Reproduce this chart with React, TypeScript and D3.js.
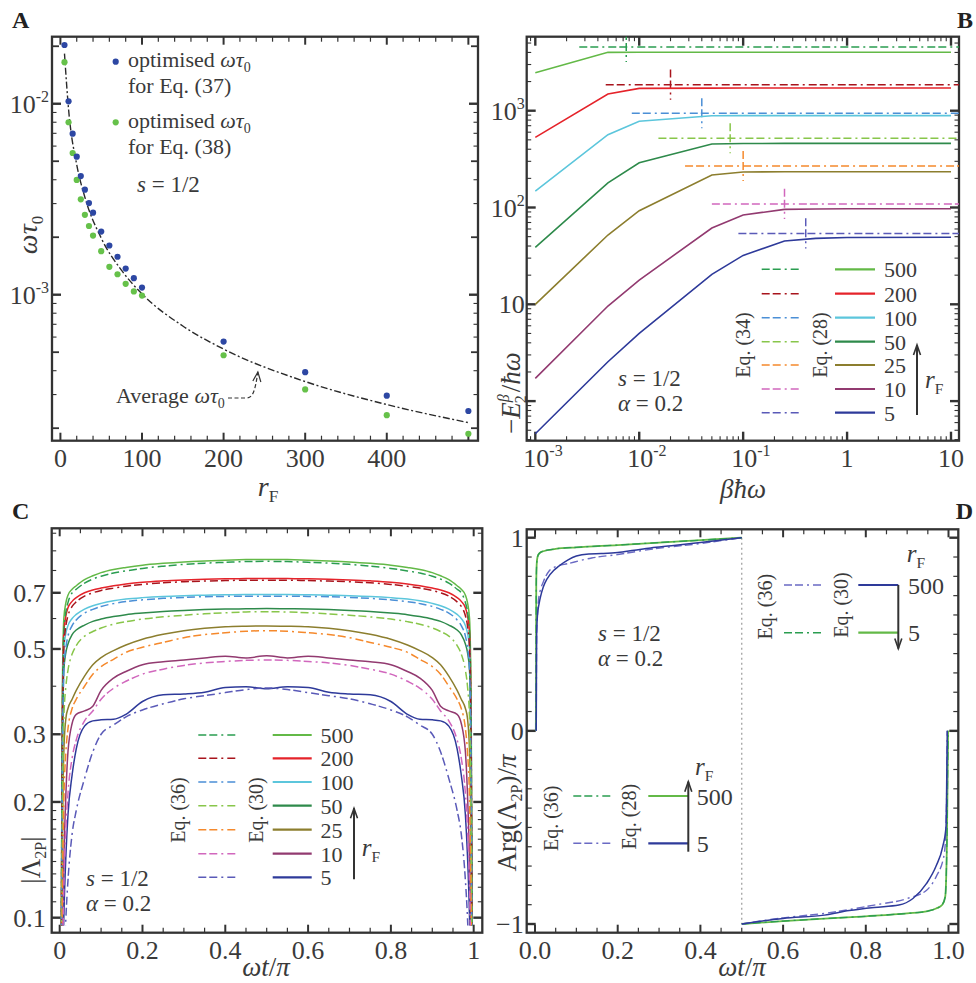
import React, { useEffect } from 'react';
import * as d3 from 'd3';

const FONT = "'Liberation Serif','Times New Roman',serif";
const INK = '#333333';
const TXT = '#3a3a3a';
const DASH = '8,3,8,4,2,4';
const TICKFS = 26;
const LEGFS = 22;

// ================= Panel A data =================
const aRF = [5, 10, 15, 20, 25, 30, 35, 40, 50, 60, 70, 80, 90, 100, 200, 300, 400, 500];
const aTau37 = [0.0203, 0.0103, 0.00697, 0.00528, 0.00418, 0.00355, 0.00302, 0.00269, 0.00214, 0.00181, 0.00158, 0.00137, 0.00122, 0.00109, 0.000568, 0.000393, 0.000296, 0.000246];
const aTau38 = [0.0165, 0.008, 0.00552, 0.00399, 0.00316, 0.00262, 0.00229, 0.00204, 0.00169, 0.0014, 0.00128, 0.00114, 0.00104, 0.00099, 0.000482, 0.000319, 0.000234, 0.000187];
const aAvgRF = [5, 10, 20, 30, 50, 75, 100, 150, 200, 300, 400, 500];
const aAvgTau = [0.0183, 0.00936, 0.0048, 0.00324, 0.00198, 0.00134, 0.00101, 0.000686, 0.000519, 0.000351, 0.000266, 0.000214];
const aXLabels = [0, 100, 200, 300, 400];
const aYExp = [-2, -3];

// ================= Panel B data =================
const bBhw = [0.001, 0.005, 0.01, 0.05, 0.1, 0.25, 0.5, 1, 10];
const bE28_500 = [2470, 4009, 4010, 4010, 4010, 4010, 4010, 4010, 4010];
const bE28_200 = [531, 1486, 1701, 1712, 1715, 1715, 1715, 1715, 1715];
const bE28_100 = [148, 565, 777, 887, 890, 890, 890, 890, 890];
const bE28_50 = [38.8, 180, 290, 453, 458, 460, 460, 460, 460];
const bE28_25 = [10, 52, 92.7, 217, 233, 234, 234, 234, 234];
const bE28_10 = [1.72, 9.6, 17.8, 61.4, 83.6, 95.7, 96.5, 97, 97];
const bE28_5 = [0.46, 2.55, 5.0, 20.4, 32, 45, 48, 49, 49.2];
const bE34 = [4550, 1858, 940, 519, 268, 109, 54];
const bE34Start = [0.00265, 0.00476, 0.00848, 0.0153, 0.0276, 0.05, 0.09];
const bE34Mark = [0.0075, 0.02, 0.04, 0.075, 0.1, 0.25, 0.4];
const bXExp = [-3, -2, -1];
const bXPlain = [1, 10];
const bYLabels = [{ v: 1000, e: '3' }, { v: 100, e: '2' }, { v: 10, e: '' }];

const rFLabels = ['500', '200', '100', '50', '25', '10', '5'];
const solidCol = ['#63b947', '#e5232a', '#5cc6dc', '#2e8a4b', '#8c7e2e', '#923a70', '#2e3a9a'];
const dashCol = ['#2a9d50', '#a8141c', '#4b8fd6', '#88c64a', '#f5892c', '#d167bd', '#5a5ab8'];

// ================= Panel C data =================
const cT = [0.004, 0.006, 0.01, 0.015, 0.02, 0.03, 0.04, 0.06, 0.08, 0.1, 0.13, 0.16, 0.2, 0.25, 0.3, 0.35, 0.4, 0.45, 0.5, 0.55, 0.6, 0.65, 0.7, 0.75, 0.8, 0.84, 0.87, 0.9, 0.92, 0.94, 0.96, 0.97, 0.98, 0.985, 0.99, 0.994, 0.996];
const cS500 = [0.10, 0.35, 0.60, 0.66, 0.69, 0.715, 0.73, 0.757, 0.775, 0.79, 0.805, 0.815, 0.826, 0.835, 0.842, 0.847, 0.851, 0.854, 0.855, 0.854, 0.851, 0.847, 0.842, 0.835, 0.826, 0.815, 0.805, 0.79, 0.775, 0.757, 0.73, 0.715, 0.69, 0.66, 0.60, 0.35, 0.10];
const cS200 = [0.09, 0.30, 0.55, 0.61, 0.64, 0.665, 0.68, 0.70, 0.712, 0.72, 0.73, 0.738, 0.746, 0.752, 0.756, 0.759, 0.761, 0.762, 0.763, 0.762, 0.761, 0.759, 0.756, 0.752, 0.746, 0.738, 0.73, 0.72, 0.712, 0.70, 0.68, 0.665, 0.64, 0.61, 0.55, 0.30, 0.09];
const cS100 = [0.08, 0.25, 0.50, 0.55, 0.575, 0.60, 0.615, 0.635, 0.648, 0.657, 0.667, 0.674, 0.68, 0.685, 0.688, 0.69, 0.692, 0.693, 0.693, 0.693, 0.692, 0.69, 0.688, 0.685, 0.68, 0.674, 0.667, 0.657, 0.648, 0.635, 0.615, 0.60, 0.575, 0.55, 0.50, 0.25, 0.08];
const cS50 = [0.07, 0.20, 0.44, 0.49, 0.515, 0.545, 0.56, 0.577, 0.59, 0.598, 0.607, 0.614, 0.62, 0.626, 0.63, 0.633, 0.635, 0.636, 0.637, 0.636, 0.635, 0.633, 0.63, 0.626, 0.62, 0.614, 0.607, 0.598, 0.59, 0.577, 0.56, 0.545, 0.515, 0.49, 0.44, 0.20, 0.07];
const cS25 = [0.06, 0.13, 0.27, 0.33, 0.35, 0.37, 0.39, 0.425, 0.455, 0.475, 0.495, 0.512, 0.53, 0.546, 0.558, 0.566, 0.571, 0.573, 0.574, 0.573, 0.571, 0.566, 0.558, 0.546, 0.53, 0.512, 0.495, 0.475, 0.455, 0.425, 0.39, 0.37, 0.35, 0.33, 0.27, 0.13, 0.06];
const cS10 = [0.05, 0.08, 0.14, 0.21, 0.27, 0.32, 0.338, 0.345, 0.355, 0.39, 0.42, 0.437, 0.455, 0.463, 0.468, 0.474, 0.479, 0.474, 0.48, 0.474, 0.479, 0.474, 0.468, 0.463, 0.455, 0.437, 0.42, 0.39, 0.355, 0.345, 0.338, 0.32, 0.27, 0.21, 0.14, 0.08, 0.05];
const cS5 = [0.04, 0.06, 0.10, 0.145, 0.185, 0.235, 0.275, 0.315, 0.325, 0.327, 0.328, 0.338, 0.365, 0.38, 0.382, 0.386, 0.397, 0.399, 0.394, 0.399, 0.397, 0.386, 0.382, 0.38, 0.365, 0.338, 0.328, 0.327, 0.325, 0.315, 0.275, 0.235, 0.185, 0.145, 0.10, 0.06, 0.04];
const cD500 = [0.09, 0.29, 0.55, 0.625, 0.66, 0.70, 0.715, 0.742, 0.76, 0.773, 0.788, 0.798, 0.81, 0.821, 0.83, 0.836, 0.84, 0.844, 0.845, 0.844, 0.84, 0.836, 0.83, 0.821, 0.81, 0.798, 0.788, 0.773, 0.76, 0.742, 0.715, 0.70, 0.66, 0.625, 0.55, 0.29, 0.09];
const cD200 = [0.08, 0.24, 0.50, 0.575, 0.61, 0.645, 0.663, 0.686, 0.70, 0.71, 0.72, 0.728, 0.736, 0.743, 0.748, 0.751, 0.753, 0.755, 0.755, 0.755, 0.753, 0.751, 0.748, 0.743, 0.736, 0.728, 0.72, 0.71, 0.70, 0.686, 0.663, 0.645, 0.61, 0.575, 0.50, 0.24, 0.08];
const cD100 = [0.07, 0.20, 0.44, 0.505, 0.54, 0.575, 0.595, 0.62, 0.634, 0.645, 0.656, 0.664, 0.671, 0.677, 0.681, 0.684, 0.685, 0.686, 0.686, 0.686, 0.685, 0.684, 0.681, 0.677, 0.671, 0.664, 0.656, 0.645, 0.634, 0.62, 0.595, 0.575, 0.54, 0.505, 0.44, 0.20, 0.07];
const cD50 = [0.06, 0.15, 0.33, 0.40, 0.44, 0.485, 0.51, 0.54, 0.555, 0.567, 0.58, 0.589, 0.598, 0.606, 0.612, 0.617, 0.621, 0.624, 0.625, 0.624, 0.621, 0.617, 0.612, 0.606, 0.598, 0.589, 0.58, 0.567, 0.555, 0.54, 0.51, 0.485, 0.44, 0.40, 0.33, 0.15, 0.06];
const cD25 = [0.05, 0.10, 0.20, 0.27, 0.31, 0.35, 0.37, 0.40, 0.43, 0.45, 0.47, 0.49, 0.505, 0.52, 0.535, 0.545, 0.551, 0.556, 0.558, 0.556, 0.551, 0.545, 0.535, 0.52, 0.505, 0.49, 0.47, 0.45, 0.43, 0.40, 0.37, 0.35, 0.31, 0.27, 0.20, 0.10, 0.05];
const cD10 = [0.04, 0.065, 0.12, 0.17, 0.21, 0.26, 0.29, 0.325, 0.345, 0.37, 0.395, 0.412, 0.43, 0.443, 0.453, 0.46, 0.464, 0.467, 0.468, 0.467, 0.464, 0.46, 0.453, 0.443, 0.43, 0.412, 0.395, 0.37, 0.345, 0.325, 0.29, 0.26, 0.21, 0.17, 0.12, 0.065, 0.04];
const cD5 = [0.03, 0.045, 0.07, 0.10, 0.125, 0.165, 0.19, 0.23, 0.27, 0.30, 0.317, 0.333, 0.347, 0.36, 0.371, 0.378, 0.385, 0.392, 0.396, 0.392, 0.385, 0.378, 0.371, 0.36, 0.347, 0.333, 0.317, 0.30, 0.27, 0.23, 0.19, 0.165, 0.125, 0.10, 0.07, 0.045, 0.03];
const cXLabels = ['0', '0.2', '0.4', '0.6', '0.8', '1'];
const cYLabels = [0.1, 0.2, 0.3, 0.5, 0.7];

// ================= Panel D data =================
const dG1T = [0.002, 0.0025, 0.003, 0.004, 0.006, 0.01, 0.02, 0.05, 0.1, 0.2, 0.3, 0.4, 0.5];
const dG1V = [0, 0.3, 0.75, 0.86, 0.9, 0.918, 0.93, 0.942, 0.95, 0.962, 0.975, 0.987, 1.0];
const dG2T = [0.5, 0.6, 0.7, 0.8, 0.9, 0.95, 0.97, 0.985, 0.992, 0.996, 0.998, 0.999];
const dG2V = [-1, -0.985, -0.972, -0.96, -0.945, -0.933, -0.92, -0.9, -0.86, -0.6, -0.2, 0];
const dB1T = [0.003, 0.0035, 0.004, 0.006, 0.01, 0.014, 0.02, 0.03, 0.045, 0.056, 0.08, 0.1, 0.13, 0.16, 0.2, 0.24, 0.28, 0.33, 0.4, 0.5];
const dB1V = [0, 0.3, 0.5, 0.6, 0.66, 0.7, 0.745, 0.79, 0.83, 0.85, 0.885, 0.905, 0.916, 0.918, 0.923, 0.935, 0.947, 0.958, 0.975, 1.0];
const dB2T = [0.5, 0.6, 0.7, 0.76, 0.82, 0.88, 0.914, 0.947, 0.97, 0.986, 0.994, 0.996, 0.997];
const dB2V = [-1, -0.971, -0.954, -0.93, -0.914, -0.902, -0.868, -0.79, -0.7, -0.6, -0.497, -0.2, 0];
const dBd1T = [0.003, 0.004, 0.006, 0.008, 0.012, 0.02, 0.035, 0.05, 0.08, 0.137, 0.2, 0.28, 0.4, 0.5];
const dBd1V = [0, 0.5, 0.6, 0.668, 0.72, 0.771, 0.83, 0.85, 0.866, 0.895, 0.913, 0.94, 0.97, 1.0];
const dBd2T = [0.5, 0.6, 0.7, 0.82, 0.9, 0.947, 0.97, 0.99, 0.995, 0.997];
const dBd2V = [-1, -0.968, -0.945, -0.902, -0.868, -0.825, -0.756, -0.635, -0.4, 0];
const dXLabels = ['0.0', '0.2', '0.4', '0.6', '0.8', '1.0'];
const dYLabels = [{ v: 1, t: '1' }, { v: 0, t: '0' }, { v: -1, t: '\u22121' }];

const dGreen = '#63b947';
const dGreenD = '#2a9d50';
const dBlue = '#2e3a9a';
const dBlueD = '#6a6ac4';

// ================= Layout =================
const FA = { x0: 52, x1: 478, y0: 36.7, y1: 440.7 };
const FB = { x0: 526.7, x1: 959, y0: 36.7, y1: 440.7 };
const FC = { x0: 51.7, x1: 482.3, y0: 528.3, y1: 932.7 };
const FD = { x0: 526.7, x1: 958.3, y0: 529.3, y1: 932.7 };

const xA = d3.scaleLinear().domain([-10.3, 511.8]).range([FA.x0, FA.x1]);
const yA = d3.scaleLog().domain([1.72e-4, 0.02244]).range([FA.y1, FA.y0]);
const xB = d3.scaleLog().domain([Math.pow(10, -3.0828), Math.pow(10, 1.077)]).range([FB.x0, FB.x1]);
const yB = d3.scaleLog().domain([Math.pow(10, -0.409), Math.pow(10, 3.7645)]).range([FB.y1, FB.y0]);
const xC = d3.scaleLinear().domain([-0.0193, 1.0208]).range([FC.x0, FC.x1]);
const yC = d3.scaleLog().domain([0.0914, 1.03]).range([FC.y1, FC.y0]);
const xD = d3.scaleLinear().domain([-0.0201, 1.0237]).range([FD.x0, FD.x1]);
const yD = d3.scaleLinear().domain([-1.045, 1.0435]).range([FD.y1, FD.y0]);

type Tk = { v: number; len: number; w: number };

function linTicks(lo: number, hi: number, step: number, majorEvery: number): Tk[] {
  const out: Tk[] = [];
  const n = Math.round((hi - lo) / step);
  for (let i = 0; i <= n; i++) {
    const v = lo + i * step;
    const major = i % majorEvery === 0;
    out.push({ v, len: major ? 8 : 5, w: major ? 2 : 1.2 });
  }
  return out;
}
function logTicks(lo: number, hi: number, mids: number[]): Tk[] {
  const out: Tk[] = [];
  for (let k = Math.floor(Math.log10(lo)); k <= Math.ceil(Math.log10(hi)); k++) {
    for (let m = 1; m <= 9; m++) {
      const v = m * Math.pow(10, k);
      if (v < lo || v > hi) continue;
      const big = m === 1, mid = mids.includes(m);
      out.push({ v, len: big ? 9 : mid ? 7 : 4.5, w: big ? 2.4 : mid ? 1.8 : 1.1 });
    }
  }
  return out;
}

function Frame({ f, xs, ys, xt, yt }: any) {
  const els: any[] = [];
  xt.forEach((t: Tk, i: number) => {
    const x = xs(t.v);
    if (x < f.x0 + 0.5 || x > f.x1 - 0.5) return;
    els.push(<line key={'xb' + i} x1={x} x2={x} y1={f.y1} y2={f.y1 - t.len} stroke={INK} strokeWidth={t.w} />);
    els.push(<line key={'xt' + i} x1={x} x2={x} y1={f.y0} y2={f.y0 + t.len} stroke={INK} strokeWidth={t.w} />);
  });
  yt.forEach((t: Tk, i: number) => {
    const y = ys(t.v);
    if (y < f.y0 + 0.5 || y > f.y1 - 0.5) return;
    els.push(<line key={'yl' + i} x1={f.x0} x2={f.x0 + t.len} y1={y} y2={y} stroke={INK} strokeWidth={t.w} />);
    els.push(<line key={'yr' + i} x1={f.x1} x2={f.x1 - t.len} y1={y} y2={y} stroke={INK} strokeWidth={t.w} />);
  });
  return (
    <g>
      {els}
      <rect x={f.x0} y={f.y0} width={f.x1 - f.x0} height={f.y1 - f.y0} fill="none" stroke={INK} strokeWidth={2.3} />
    </g>
  );
}

function Clip({ id, f, bottom }: any) {
  const yb = bottom ?? f.y1;
  return (
    <clipPath id={id}>
      <rect x={f.x0} y={f.y0} width={f.x1 - f.x0} height={yb - f.y0} />
    </clipPath>
  );
}

function Arrow({ x, y1, y2 }: any) {
  const dir = y2 < y1 ? 1 : -1;
  return (
    <g stroke={INK} fill="none">
      <line x1={x} x2={x} y1={y1} y2={y2} strokeWidth={2} />
      <path d={`M${x - 3.5},${y2 + dir * 10} L${x},${y2} L${x + 3.5},${y2 + dir * 10}`} strokeWidth={1.6} />
    </g>
  );
}

function RotText({ x, y, children, size = 20 }: any) {
  return (
    <text transform={`translate(${x},${y}) rotate(-90)`} textAnchor="middle" fontSize={size} fill={TXT}>
      {children}
    </text>
  );
}

function RF({ x, y, size = 23, anchor = 'start' }: any) {
  return (
    <text x={x} y={y} fontSize={size} fill={TXT} textAnchor={anchor}>
      <tspan fontStyle="italic">r</tspan>
      <tspan fontSize={size * 0.62} dy={size * 0.22}>F</tspan>
    </text>
  );
}

function SAlpha({ x, y, gap = 25, size = 23 }: any) {
  return (
    <g fontSize={size} fill={TXT}>
      <text x={x} y={y}><tspan fontStyle="italic">s</tspan> = 1/2</text>
      <text x={x} y={y + gap}><tspan fontStyle="italic">α</tspan> = 0.2</text>
    </g>
  );
}

// --------------------------------------------------------------
function PanelA() {
  const line = d3.line<number>().x((_, i) => xA(aAvgRF[i])).y((d) => yA(d)).curve(d3.curveMonotoneX);
  const tipX = xA(242), tipY = yA(3.94e-4);
  return (
    <g>
      <Frame f={FA} xs={xA} ys={yA} xt={linTicks(0, 500, 20, 5)} yt={logTicks(1.72e-4, 0.0224, [2, 5])} />
      <g clipPath="url(#clipA)">
        <path d={line(aAvgTau) || ''} fill="none" stroke="#2a2a2a" strokeWidth={1.4} strokeDasharray="7,2.5,2,2.5" />
        {aRF.map((r, i) => <circle key={'g' + i} cx={xA(r)} cy={yA(aTau38[i])} r={3.1} fill="#66c14a" />)}
        {aRF.map((r, i) => <circle key={'b' + i} cx={xA(r)} cy={yA(aTau37[i])} r={3.1} fill="#2d47a3" />)}
      </g>
      {aXLabels.map((v) => (
        <text key={v} x={xA(v)} y={FA.y1 + 26} textAnchor="middle" fontSize={TICKFS} fill={TXT}>{v}</text>
      ))}
      {aYExp.map((e) => (
        <text key={e} x={FA.x0 - 3} y={yA(Math.pow(10, e)) + 9} textAnchor="end" fontSize={TICKFS} fill={TXT}>
          10<tspan fontSize={16} dy={-11}>{e}</tspan>
        </text>
      ))}
      {/* legend */}
      <circle cx={115.7} cy={61.7} r={3.1} fill="#2d47a3" />
      <text x={128} y={67} fontSize={22} fill={TXT}>optimised <tspan fontStyle="italic">ωτ</tspan><tspan fontSize={14} dy={5}>0</tspan></text>
      <text x={128} y={93} fontSize={22} fill={TXT}>for Eq. (37)</text>
      <circle cx={115.7} cy={122.3} r={3.1} fill="#66c14a" />
      <text x={128} y={128} fontSize={22} fill={TXT}>optimised <tspan fontStyle="italic">ωτ</tspan><tspan fontSize={14} dy={5}>0</tspan></text>
      <text x={128} y={154} fontSize={22} fill={TXT}>for Eq. (38)</text>
      <text x={137} y={192} fontSize={23} fill={TXT}><tspan fontStyle="italic">s</tspan> = 1/2</text>
      {/* annotation */}
      <text x={116} y={403} fontSize={22} fill={TXT}>Average <tspan fontStyle="italic">ωτ</tspan><tspan fontSize={14} dy={5}>0</tspan></text>
      <path d={`M228,398 L${tipX - 12},398 C${tipX - 5},398 ${tipX - 3},392 ${tipX},${tipY}`} fill="none" stroke={INK} strokeWidth={1.2} strokeDasharray="4,2.5" />
      <path d={`M${tipX - 5},${tipY + 9} L${tipX},${tipY} L${tipX + 3},${tipY + 10}`} fill="none" stroke={INK} strokeWidth={1.2} />
      {/* axis titles */}
      <text transform="translate(37,235) rotate(-90)" textAnchor="middle" fontSize={28} fill={TXT}>
        <tspan fontStyle="italic">ωτ</tspan><tspan fontSize={17} dy={6}>0</tspan>
      </text>
      <RF x={268} y={496} size={28} anchor="middle" />
      <text x={12} y={28} fontSize={24} fontWeight="bold" fill="#222">A</text>
    </g>
  );
}

function PanelB() {
  const series = [bE28_500, bE28_200, bE28_100, bE28_50, bE28_25, bE28_10, bE28_5];
  const line = d3.line<number>().x((_, i) => xB(bBhw[i])).y((d) => yB(d));
  const xEnd = xB.domain()[1];
  const rows = [269.3, 293.7, 317.7, 341.7, 365, 389, 412.7];
  return (
    <g>
      <Frame f={FB} xs={xB} ys={yB} xt={logTicks(0.00083, 11.9, [])} yt={logTicks(0.39, 5800, [])} />
      <g clipPath="url(#clipB)">
        {bE34.map((v, i) => (
          <g key={'d' + i} stroke={dashCol[i]} strokeWidth={1.5} strokeDasharray={DASH} fill="none">
            <line x1={xB(bE34Start[i])} x2={xB(xEnd)} y1={yB(v)} y2={yB(v)} />
            <line x1={xB(bE34Mark[i])} x2={xB(bE34Mark[i])} y1={yB(v * 1.43)} y2={yB(v / 1.43)} />
          </g>
        ))}
        {series.map((s, i) => (
          <path key={'s' + i} d={line(s) || ''} fill="none" stroke={solidCol[i]} strokeWidth={1.6} />
        ))}
      </g>
      {bXExp.map((e) => (
        <text key={e} x={xB(Math.pow(10, e)) - 12} y={FB.y1 + 26} fontSize={TICKFS} fill={TXT}>
          10<tspan fontSize={16} dy={-11}>{e}</tspan>
        </text>
      ))}
      {bXPlain.map((v) => (
        <text key={v} x={xB(v)} y={FB.y1 + 26} textAnchor="middle" fontSize={TICKFS} fill={TXT}>{v}</text>
      ))}
      {bYLabels.map((l) => (
        <text key={l.v} x={FB.x0 - 2} y={yB(l.v) + 9} textAnchor="end" fontSize={TICKFS} fill={TXT}>
          10{l.e ? <tspan fontSize={16} dy={-11}>{l.e}</tspan> : null}
        </text>
      ))}
      {/* legend */}
      {rows.map((y, i) => (
        <g key={'lg' + i}>
          <line x1={761.7} x2={800.7} y1={y} y2={y} stroke={dashCol[i]} strokeWidth={1.6} strokeDasharray={DASH} />
          <line x1={835} x2={875} y1={y} y2={y} stroke={solidCol[i]} strokeWidth={2.2} />
          <text x={884} y={y + 8} fontSize={LEGFS} fill={TXT}>{rFLabels[i]}</text>
        </g>
      ))}
      <RotText x={750} y={345}>Eq. (34)</RotText>
      <RotText x={827} y={345}>Eq. (28)</RotText>
      <Arrow x={917} y1={415} y2={345} />
      <RF x={925} y={388} size={25} />
      <SAlpha x={618} y={386} gap={25} />
      {/* titles */}
      <text transform="translate(520,393) rotate(-90)" textAnchor="middle" fontSize={27} fill={TXT}>
        −<tspan fontStyle="italic">E</tspan><tspan fontSize={16} dy={-11} fontStyle="italic">β</tspan><tspan fontSize={16} dx={-9} dy={17}>2</tspan><tspan dx={3} dy={-6}>/</tspan><tspan fontStyle="italic">ħω</tspan>
      </text>
      <text x={743} y={498} textAnchor="middle" fontSize={27} fill={TXT} fontStyle="italic">βħω</text>
      <text x={973} y={28} textAnchor="end" fontSize={24} fontWeight="bold" fill="#222">B</text>
    </g>
  );
}

function PanelC() {
  const solids = [cS500, cS200, cS100, cS50, cS25, cS10, cS5];
  const dashes = [cD500, cD200, cD100, cD50, cD25, cD10, cD5];
  const line = d3.line<number>().x((_, i) => xC(cT[i])).y((d) => yC(d)).curve(d3.curveMonotoneX);
  const yt: Tk[] = [];
  for (let k = 11; k <= 19; k++) yt.push({ v: k / 100, len: 4.5, w: 1.1 });
  for (let k = 1; k <= 10; k++) {
    const v = k / 10;
    const big = cYLabels.some((l) => Math.abs(l - v) < 1e-9);
    yt.push({ v, len: big ? 9 : 4.5, w: big ? 2.4 : 1.1 });
  }
  const rows = [735, 758.3, 782, 805.7, 829.7, 853.7, 877.3];
  return (
    <g>
      <Frame f={FC} xs={xC} ys={yC} xt={linTicks(0, 1, 0.05, 4)} yt={yt} />
      <g clipPath="url(#clipC)">
        {solids.map((s, i) => (
          <path key={'s' + i} d={line(s) || ''} fill="none" stroke={solidCol[i]} strokeWidth={1.5} />
        ))}
        {dashes.map((s, i) => (
          <path key={'d' + i} d={line(s) || ''} fill="none" stroke={dashCol[i]} strokeWidth={1.5} strokeDasharray={DASH} />
        ))}
      </g>
      {cXLabels.map((l, i) => (
        <text key={l} x={xC(i * 0.2)} y={FC.y1 + 26} textAnchor="middle" fontSize={TICKFS} fill={TXT}>{l}</text>
      ))}
      {cYLabels.map((v) => (
        <text key={v} x={FC.x0 - 6} y={yC(v) + 9} textAnchor="end" fontSize={TICKFS} fill={TXT}>{String(v)}</text>
      ))}
      {rows.map((y, i) => (
        <g key={'lg' + i}>
          <line x1={198.3} x2={237.3} y1={y} y2={y} stroke={dashCol[i]} strokeWidth={1.6} strokeDasharray={DASH} />
          <line x1={272.7} x2={311.7} y1={y} y2={y} stroke={solidCol[i]} strokeWidth={2.2} />
          <text x={320.5} y={y + 8} fontSize={LEGFS} fill={TXT}>{rFLabels[i]}</text>
        </g>
      ))}
      <RotText x={185} y={810}>Eq. (36)</RotText>
      <RotText x={263} y={810}>Eq. (30)</RotText>
      <Arrow x={354} y1={879.3} y2={808.3} />
      <RF x={361.7} y={856} size={25} />
      <SAlpha x={86} y={886} gap={25} />
      <text transform="translate(40,860) rotate(-90)" textAnchor="middle" fontSize={27} fill={TXT}>
        |Λ<tspan fontSize={16} dy={6}>2P</tspan><tspan dy={-6}>|</tspan>
      </text>
      <text x={266} y={976} textAnchor="middle" fontSize={27} fill={TXT}>
        <tspan fontStyle="italic">ωt</tspan>/<tspan fontStyle="italic">π</tspan>
      </text>
      <text x={12} y={519} fontSize={24} fontWeight="bold" fill="#222">C</text>
    </g>
  );
}

function PanelD() {
  const mk = (T: number[]) => d3.line<number>().x((_, i) => xD(T[i])).y((d) => yD(d)).curve(d3.curveMonotoneX);
  const yt: Tk[] = [];
  for (let k = -10; k <= 10; k++) {
    const big = k % 10 === 0;
    yt.push({ v: k / 10, len: big ? 9 : 5, w: big ? 2.4 : 1.2 });
  }
  return (
    <g>
      <Frame f={FD} xs={xD} ys={yD} xt={linTicks(0, 1, 0.05, 4)} yt={yt} />
      <line x1={xD(0.5)} x2={xD(0.5)} y1={yD(1)} y2={yD(-1)} stroke="#9a9a9a" strokeWidth={1.2} strokeDasharray="2,3" />
      <g clipPath="url(#clipD)" fill="none">
        <path d={mk(dG1T)(dG1V) || ''} stroke={dGreen} strokeWidth={1.8} />
        <path d={mk(dG2T)(dG2V) || ''} stroke={dGreen} strokeWidth={1.8} />
        <path d={mk(dG1T)(dG1V) || ''} stroke={dGreenD} strokeWidth={1.3} strokeDasharray={DASH} />
        <path d={mk(dG2T)(dG2V) || ''} stroke={dGreenD} strokeWidth={1.3} strokeDasharray={DASH} />
        <path d={mk(dBd1T)(dBd1V) || ''} stroke={dBlueD} strokeWidth={1.4} strokeDasharray={DASH} />
        <path d={mk(dBd2T)(dBd2V) || ''} stroke={dBlueD} strokeWidth={1.4} strokeDasharray={DASH} />
        <path d={mk(dB1T)(dB1V) || ''} stroke={dBlue} strokeWidth={1.5} />
        <path d={mk(dB2T)(dB2V) || ''} stroke={dBlue} strokeWidth={1.5} />
      </g>
      {dXLabels.map((l, i) => (
        <text key={l} x={xD(i * 0.2)} y={FD.y1 + 26} textAnchor="middle" fontSize={TICKFS} fill={TXT}>{l}</text>
      ))}
      {dYLabels.map((l) => (
        <text key={l.t} x={FD.x0 - 3} y={yD(l.v) + 9} textAnchor="end" fontSize={TICKFS} fill={TXT}>{l.t}</text>
      ))}
      {/* top-right legend */}
      <line x1={784} x2={823.3} y1={585} y2={585} stroke={dBlueD} strokeWidth={1.6} strokeDasharray={DASH} />
      <line x1={858.3} x2={898.3} y1={585} y2={585} stroke={dBlue} strokeWidth={2.2} />
      <line x1={784} x2={823.3} y1={632.7} y2={632.7} stroke={dGreenD} strokeWidth={1.6} strokeDasharray={DASH} />
      <line x1={858.3} x2={898.3} y1={632.7} y2={632.7} stroke={dGreen} strokeWidth={2.2} />
      <Arrow x={898.3} y1={585} y2={648.5} />
      <text x={908} y={593.5} fontSize={24} fill={TXT}>500</text>
      <text x={908} y={641} fontSize={24} fill={TXT}>5</text>
      <RF x={906.7} y={562} size={25} />
      <RotText x={772} y={606.7}>Eq. (36)</RotText>
      <RotText x={848} y={605}>Eq. (30)</RotText>
      {/* bottom-left legend */}
      <line x1={573.3} x2={613.3} y1={796} y2={796} stroke={dGreenD} strokeWidth={1.6} strokeDasharray={DASH} />
      <line x1={648.3} x2={688.3} y1={796} y2={796} stroke={dGreen} strokeWidth={2.2} />
      <line x1={573.3} x2={613.3} y1={843.3} y2={843.3} stroke={dBlueD} strokeWidth={1.6} strokeDasharray={DASH} />
      <line x1={648.3} x2={688.3} y1={843.3} y2={843.3} stroke={dBlue} strokeWidth={2.2} />
      <Arrow x={688.3} y1={851.7} y2={781.7} />
      <text x={696.7} y={804.5} fontSize={24} fill={TXT}>500</text>
      <text x={696.7} y={852} fontSize={24} fill={TXT}>5</text>
      <RF x={695} y={775} size={25} />
      <RotText x={558} y={818.3}>Eq. (36)</RotText>
      <RotText x={636} y={816.7}>Eq. (28)</RotText>
      <SAlpha x={598} y={641} gap={25} />
      <text transform="translate(516,813) rotate(-90)" textAnchor="middle" fontSize={27} fill={TXT}>
        Arg(Λ<tspan fontSize={16} dy={6}>2P</tspan><tspan dy={-6}>)/</tspan><tspan fontStyle="italic">π</tspan>
      </text>
      <text x={742} y={976} textAnchor="middle" fontSize={27} fill={TXT}>
        <tspan fontStyle="italic">ωt</tspan>/<tspan fontStyle="italic">π</tspan>
      </text>
      <text x={973} y={519} textAnchor="end" fontSize={24} fontWeight="bold" fill="#222">D</text>
    </g>
  );
}

export default function App() {
  useEffect(() => {
    document.body.style.margin = '0';
  }, []);
  return (
    <svg width={976} height={983} viewBox="0 0 976 983" style={{ position: 'absolute', left: 0, top: 0, background: '#fff' }} fontFamily={FONT}>
      <defs>
        <Clip id="clipA" f={FA} />
        <Clip id="clipB" f={FB} />
        <Clip id="clipC" f={FC} bottom={925.5} />
        <Clip id="clipD" f={FD} />
      </defs>
      <rect x={0} y={0} width={976} height={983} fill="#fff" />
      <PanelA />
      <PanelB />
      <PanelC />
      <PanelD />
    </svg>
  );
}
